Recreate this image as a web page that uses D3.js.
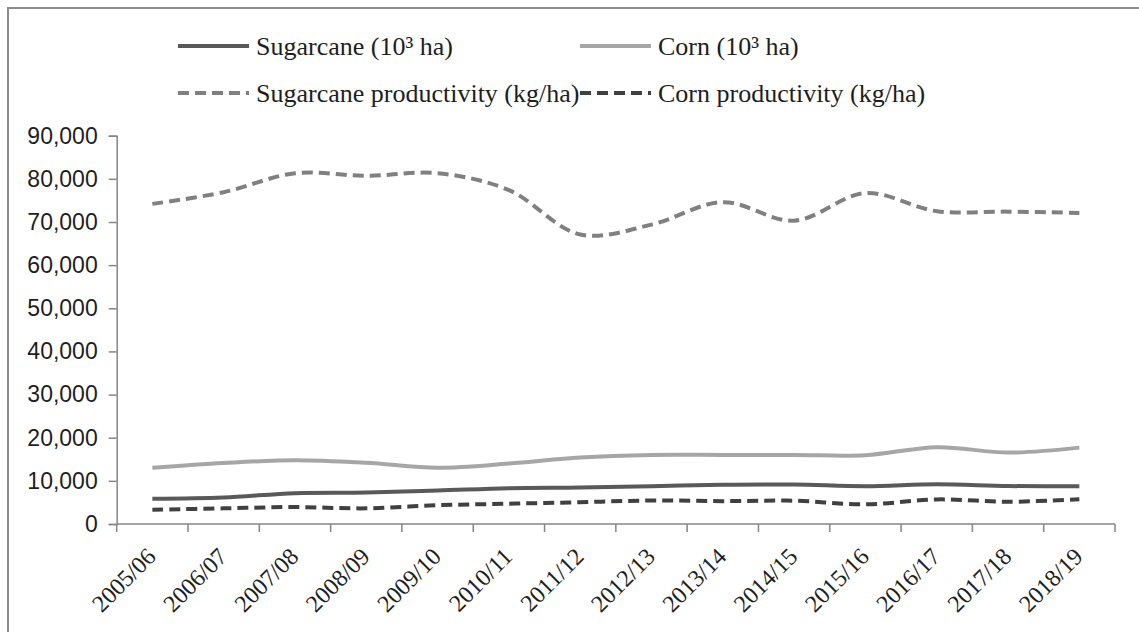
<!DOCTYPE html>
<html lang="en">
  <meta charset="UTF-8" />
  <title>Sugarcane and corn</title>
  <style>
    body { margin: 0; background: #fff; }
    svg { display: block; }
  </style>
  <script src="https://d3js.org/d3.v7.min.js"></script>
  <body>
    <div id="chart"></div>
    <script>
      // values
      const seasons = ["2005/06", "2006/07", "2007/08", "2008/09", "2009/10", "2010/11", "2011/12",
        "2012/13", "2013/14", "2014/15", "2015/16", "2016/17", "2017/18", "2018/19"];
      const sugarcaneArea = [5850, 6150, 7150, 7300, 7750, 8300, 8450, 8750, 9100, 9150, 8750, 9200, 8800, 8750];
      const cornArea = [13050, 14150, 14800, 14200, 13050, 14000, 15400, 16000, 16000, 16000, 15950, 17800, 16550, 17700];
      const sugarcaneProd = [74200, 76900, 81300, 80700, 81300, 77400, 67100, 69400, 74600, 70300, 76700, 72500, 72400, 72100];
      const cornProd = [3300, 3630, 3930, 3630, 4350, 4700, 5050, 5450, 5300, 5400, 4550, 5700, 5150, 5750];
      const yTicks = [0, 10000, 20000, 30000, 40000, 50000, 60000, 70000, 80000, 90000];

      const series = [
        { name: "Sugarcane (10\u00b3 ha)", values: sugarcaneArea, color: "#595959", dash: null },
        { name: "Corn (10\u00b3 ha)", values: cornArea, color: "#a6a6a6", dash: null },
        { name: "Sugarcane productivity (kg/ha)", values: sugarcaneProd, color: "#808080", dash: "11,6" },
        { name: "Corn productivity (kg/ha)", values: cornProd, color: "#404040", dash: "11,6" }
      ];

      const W = 1139, H = 632;
      const plotLeft = 116.7, plotRight = 1115, plotTop = 135.7, plotBottom = 524;
      const axisColor = "#868686";
      const textColor = "#1e1e1e";

      const svg = d3.select("#chart").append("svg")
        .attr("width", W)
        .attr("height", H);

      // outer frame (only top and left edges show in the picture)
      svg.append("path")
        .attr("d", "M8," + H + "V8H" + W)
        .attr("fill", "none")
        .attr("stroke", "#8c8c8c")
        .attr("stroke-width", 2);

      const x = d3.scaleBand().domain(seasons).range([plotLeft, plotRight]);
      const y = d3.scaleLinear().domain([0, 90000]).range([plotBottom, plotTop]);

      // y axis
      const yAxis = svg.append("g")
        .attr("transform", "translate(" + plotLeft + ",0)")
        .call(d3.axisLeft(y).tickValues(yTicks).tickSize(8).tickPadding(11)
          .tickFormat(d3.format(",")));
      yAxis.select(".domain").attr("stroke", axisColor).attr("stroke-width", 1.5);
      yAxis.selectAll(".tick line").attr("stroke", axisColor).attr("stroke-width", 1.5);
      yAxis.selectAll("text")
        .attr("fill", textColor)
        .style("font-family", "'Liberation Sans', Arial, sans-serif")
        .style("font-size", "23px");

      // x axis: ticks sit on the band edges
      const xAxis = svg.append("g")
        .attr("transform", "translate(0," + plotBottom + ")");
      xAxis.append("line")
        .attr("x1", plotLeft).attr("x2", plotRight)
        .attr("stroke", axisColor).attr("stroke-width", 1.5);
      const edges = seasons.map((s) => x(s)).concat([plotRight]);
      xAxis.selectAll(".edge")
        .data(edges)
        .enter()
        .append("line")
        .attr("class", "edge")
        .attr("x1", (d) => d).attr("x2", (d) => d)
        .attr("y1", 0).attr("y2", 8)
        .attr("stroke", axisColor).attr("stroke-width", 1.5);
      xAxis.selectAll(".lbl")
        .data(seasons)
        .enter()
        .append("text")
        .attr("class", "lbl")
        .attr("transform", (d) => "translate(" + (x(d) + x.bandwidth() / 2 - 1) + ",28) rotate(-45)")
        .attr("text-anchor", "end")
        .attr("dy", "0.35em")
        .attr("fill", textColor)
        .style("font-family", "'Liberation Serif', 'Times New Roman', serif")
        .style("font-size", "24px")
        .text((d) => d);

      // the lines
      const line = d3.line()
        .x((d, i) => x(seasons[i]) + x.bandwidth() / 2)
        .y((d) => y(d))
        .curve(d3.curveCatmullRom);

      svg.append("g")
        .selectAll("path")
        .data(series)
        .enter()
        .append("path")
        .attr("d", (d) => line(d.values))
        .attr("fill", "none")
        .attr("stroke", (d) => d.color)
        .attr("stroke-width", 4)
        .attr("stroke-dasharray", (d) => d.dash);

      // legend, two rows of two
      const legendPos = [[178, 46], [580, 46], [178, 93], [580, 93]];
      const legend = svg.append("g")
        .selectAll("g")
        .data(series)
        .enter()
        .append("g")
        .attr("transform", (d, i) => "translate(" + legendPos[i][0] + "," + legendPos[i][1] + ")");
      legend.append("line")
        .attr("x1", 0).attr("x2", 71)
        .attr("stroke", (d) => d.color)
        .attr("stroke-width", 4)
        .attr("stroke-dasharray", (d) => d.dash);
      legend.append("text")
        .attr("x", 78)
        .attr("dy", "0.33em")
        .attr("fill", textColor)
        .style("font-family", "'Liberation Serif', 'Times New Roman', serif")
        .style("font-size", "26px")
        .text((d) => d.name);
    </script>
  </body>
</html>
